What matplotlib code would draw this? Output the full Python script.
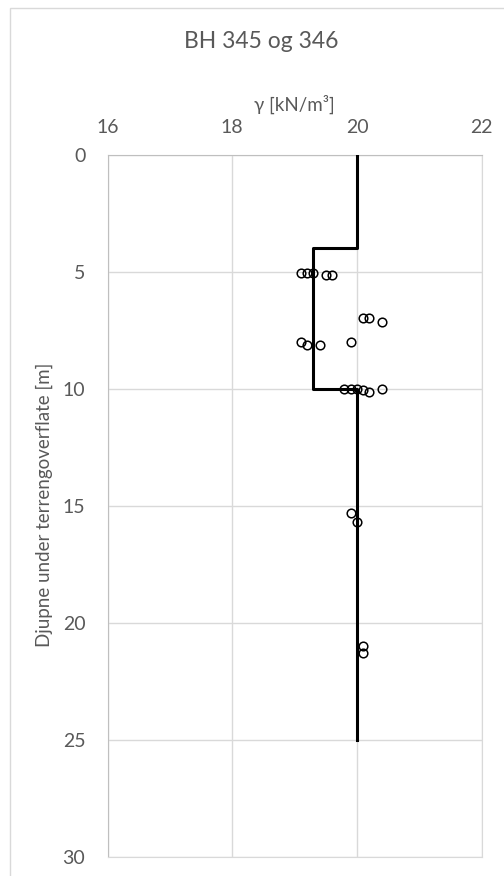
import matplotlib.pyplot as plt
from matplotlib.patches import Rectangle

# data
# design line (gamma vs depth), drawn as a step profile
line_gamma = [20.0, 20.0, 19.3, 19.3, 20.0, 20.0]
line_depth = [0, 4, 4, 10, 10, 25]

# measured unit weights
pt_gamma = [19.1, 19.2, 19.3, 19.5, 19.6,
            20.1, 20.2, 20.4,
            19.1, 19.2, 19.4, 19.9,
            19.8, 19.9, 20.0, 20.1, 20.2, 20.4,
            19.9, 20.0,
            20.1, 20.1]
pt_depth = [5.05, 5.05, 5.05, 5.15, 5.15,
            7.0, 7.0, 7.15,
            8.0, 8.15, 8.15, 8.0,
            10.0, 10.0, 10.0, 10.05, 10.15, 10.0,
            15.3, 15.7,
            21.0, 21.3]

xticks = [16, 18, 20, 22]
yticks = [0, 5, 10, 15, 20, 25, 30]

plt.rcParams['font.family'] = ['Lato', 'DejaVu Sans']
txt = '#595959'
grid = '#d9d9d9'

W, H = 504, 876
fig = plt.figure(figsize=(W / 100, H / 100), dpi=100)

# chart frame
fig.patches.append(Rectangle((10 / W, -0.1), 1.2, 1 - 8 / H + 0.1,
                             transform=fig.transFigure, fill=False,
                             edgecolor='#d9d9d9', lw=1))

ax = fig.add_axes([107.5 / W, 1 - 856.7 / H, 374.2 / W, 702.2 / H])

ax.plot(line_gamma, line_depth, color='black', lw=2.2, zorder=3)
ax.plot(pt_gamma, pt_depth, 'o', ms=6.2, mfc='none', mec='black', mew=1.1,
        zorder=4)

ax.set_xlim(16, 22)
ax.set_ylim(30, 0)
ax.set_xticks(xticks)
ax.set_yticks(yticks)
ax.xaxis.tick_top()
ax.xaxis.set_label_position('top')
ax.tick_params(length=0, labelsize=14, colors=txt)
ax.tick_params(axis='x', pad=13)
ax.tick_params(axis='y', pad=16)
ax.grid(color=grid, lw=1)
ax.set_axisbelow(True)
for s in ['right', 'bottom']:
    ax.spines[s].set_color(grid)
for s in ['left', 'top']:
    ax.spines[s].set_color('#bfbfbf')

ax.set_xlabel('γ [kN/m³]', fontsize=13.5, color=txt, labelpad=6)
fig.text(44 / W, 1 - 505 / H, 'Djupne under terrengoverflate [m]',
         rotation=90, ha='center', va='center', fontsize=13.5, color=txt)
fig.text(261 / W, 1 - 42 / H, 'BH 345 og 346', ha='center', va='center',
         fontsize=16.5, color=txt)

fig.savefig('out.png', dpi=100)
